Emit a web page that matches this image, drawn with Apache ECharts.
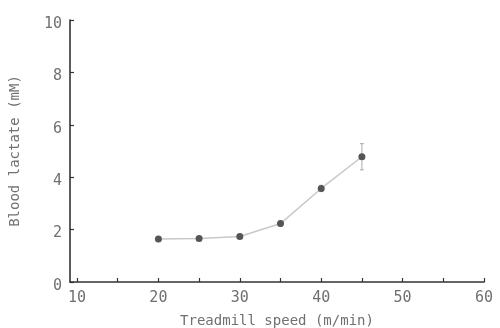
<!DOCTYPE html>
<html><head><meta charset="utf-8">
<script src="https://cdn.jsdelivr.net/npm/echarts@6/dist/echarts.min.js"></script>
<style>html,body{margin:0;padding:0;background:#fff}#c{width:500px;height:328px}</style>
</head><body><div id="c"></div>
<script>
const speeds = [20, 25, 30, 35, 40, 45];
const lactate = [1.64, 1.66, 1.74, 2.23, 3.57, 4.78];
const errors = [0.08, 0.08, 0.08, 0.1, 0.12, 0.5];
const xLabels = [10, 20, 30, 40, 50, 60];
const xTicks = [10, 15, 20, 25, 30, 35, 40, 45, 50, 55, 60];

const chart = echarts.init(document.getElementById('c'));
const txt = '#707070';
const ff = '"DejaVu Sans Mono", monospace';
chart.setOption({
  animation: false,
  grid: {left: 70, right: 16, top: 20, bottom: 46, outerBoundsMode: 'none', containLabel: false},
  xAxis: {
    type: 'value', min: 9.14, max: 60,
    name: 'Treadmill speed (m/min)', nameLocation: 'middle', nameGap: 32,
    nameTextStyle: {color: txt, fontSize: 14, fontFamily: ff},
    axisLine: {show: true, lineStyle: {color: '#333', width: 1.6}},
    axisTick: {show: true, inside: true, length: 4, customValues: xTicks, lineStyle: {color: '#333', width: 1.2}},
    axisLabel: {customValues: xLabels, color: txt, fontSize: 15, margin: 9, fontFamily: ff},
    splitLine: {show: false}
  },
  yAxis: {
    type: 'value', min: 0, max: 10, interval: 2,
    name: 'Blood lactate (mM)', nameLocation: 'middle', nameGap: 48, nameRotate: 90,
    nameTextStyle: {color: txt, fontSize: 14, fontFamily: ff},
    axisLine: {show: true, lineStyle: {color: '#333', width: 1.6}},
    axisTick: {show: true, inside: true, length: 4, lineStyle: {color: '#333', width: 1.2}},
    axisLabel: {color: txt, fontSize: 15, margin: 8, fontFamily: ff, verticalAlign: 'top', lineHeight: 8},
    splitLine: {show: false}
  },
  series: [
    {
      type: 'custom',
      data: speeds.map((s, i) => [s, lactate[i] - errors[i], lactate[i] + errors[i]]),
      renderItem: function (params, api) {
        const lo = api.coord([api.value(0), api.value(1)]);
        const hi = api.coord([api.value(0), api.value(2)]);
        const w = 2;
        const st = {stroke: '#aaa', lineWidth: 1};
        return {type: 'group', children: [
          {type: 'line', shape: {x1: lo[0], y1: lo[1], x2: hi[0], y2: hi[1]}, style: st},
          {type: 'line', shape: {x1: lo[0]-w, y1: lo[1], x2: lo[0]+w, y2: lo[1]}, style: st},
          {type: 'line', shape: {x1: hi[0]-w, y1: hi[1], x2: hi[0]+w, y2: hi[1]}, style: st}
        ]};
      },
      z: 1
    },
    {
      type: 'line',
      data: speeds.map((s, i) => [s, lactate[i]]),
      symbol: 'circle', symbolSize: 7,
      lineStyle: {color: '#c8c8c8', width: 1.5},
      itemStyle: {color: '#555'},
      z: 2
    }
  ]
});
</script></body></html>
